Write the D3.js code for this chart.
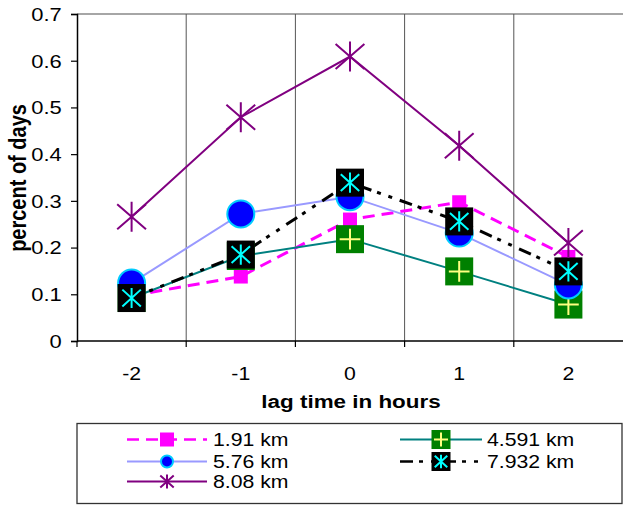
<!DOCTYPE html>
<head>
<meta charset="utf-8">
<style>
    body { margin: 0; background: #fff; }
    svg text { font-family: "Liberation Sans", Arial, sans-serif; fill: #000; }
</style>
<title>Lag time chart</title>
</head>
<body>
<script src="https://cdn.jsdelivr.net/npm/d3@7"></script>
<script>
    // categories and series
    const lagHours = ['-2', '-1', '0', '1', '2'];
    const km191 = [0.097, 0.138, 0.26, 0.297, 0.18];
    const km4591 = [0.092, 0.182, 0.218, 0.149, 0.078];
    const km576 = [0.124, 0.272, 0.309, 0.231, 0.12];
    const km7932 = [0.092, 0.185, 0.339, 0.256, 0.149];
    const km808 = [0.266, 0.479, 0.609, 0.418, 0.21];
    const yTicks = [0, 0.1, 0.2, 0.3, 0.4, 0.5, 0.6, 0.7];

    // the original looks a bit stretched sideways, so text gets stretched too
    const SX = 1.18;
    const SXY = 1.22;

    const plotLeft = 77, plotRight = 623, plotTop = 14, plotBottom = 341;

    const svg = d3.select('body').append('svg')
        .attr('width', 624)
        .attr('height', 506);

    const x = d3.scaleBand().domain(lagHours).range([plotLeft, plotRight]).padding(0);
    const y = d3.scaleLinear().domain([0, 0.7]).range([plotBottom, plotTop]);
    const cx = d => x(d) + x.bandwidth() / 2;

    // top border + vertical gridlines
    svg.append('line')
        .attr('x1', plotLeft).attr('x2', plotRight)
        .attr('y1', y(0.7)).attr('y2', y(0.7))
        .attr('stroke', '#888').attr('stroke-width', 1.5);

    svg.append('g').selectAll('line')
        .data(lagHours.slice(1))
        .join('line')
        .attr('x1', d => x(d)).attr('x2', d => x(d))
        .attr('y1', plotTop).attr('y2', plotBottom)
        .attr('stroke', '#555').attr('stroke-width', 1);

    // Y axis
    const yAxis = svg.append('g')
        .attr('transform', `translate(${plotLeft},0)`)
        .call(d3.axisLeft(y).tickValues(yTicks).tickSize(6).tickPadding(0)
            .tickFormat(d => d === 0 ? '0' : d.toFixed(1)));
    yAxis.select('.domain').attr('stroke', '#000').attr('stroke-width', 1.5);
    yAxis.selectAll('.tick line').attr('stroke', '#000').attr('stroke-width', 1.2);
    yAxis.selectAll('.tick text')
        .attr('x', -15.3 / SXY)
        .attr('dy', '0.35em')
        .attr('transform', `scale(${SXY},1)`)
        .style('font-size', '18px')
        .style('font-family', '"Liberation Sans", Arial, sans-serif');

    // X axis: labels at centres, ticks at the category borders
    const xAxis = svg.append('g')
        .attr('transform', `translate(0,${plotBottom})`)
        .call(d3.axisBottom(x).tickSize(0).tickPadding(0));
    xAxis.select('.domain').remove();
    xAxis.selectAll('.tick text')
        .attr('y', 39).attr('dy', 0)
        .attr('transform', `scale(${SX},1)`)
        .style('font-size', '18px')
        .style('font-family', '"Liberation Sans", Arial, sans-serif');

    svg.append('line')
        .attr('x1', plotLeft).attr('x2', plotRight)
        .attr('y1', plotBottom).attr('y2', plotBottom)
        .attr('stroke', '#000').attr('stroke-width', 1.5);
    svg.append('g').selectAll('line')
        .data(lagHours.map(d => x(d)))
        .join('line')
        .attr('x1', d => d).attr('x2', d => d)
        .attr('y1', plotBottom).attr('y2', plotBottom + 6)
        .attr('stroke', '#000').attr('stroke-width', 1.2);

    // axis titles
    svg.append('text')
        .attr('transform', `translate(351,408) scale(${SX},1)`)
        .attr('text-anchor', 'middle')
        .style('font-size', '19px')
        .style('font-weight', 'bold')
        .text('lag time in hours');

    svg.append('text')
        .attr('transform', `translate(26,178) rotate(-90) scale(1,${SX})`)
        .attr('text-anchor', 'middle')
        .style('font-size', '20px')
        .style('font-weight', 'bold')
        .text('percent of days');

    // markers
    function asterisk(g, w, h, v, color, sw) {
        g.append('path')
            .attr('d', `M0,${-v}V${v}M${-w},${-h}L${w},${h}M${-w},${h}L${w},${-h}`)
            .attr('stroke', color).attr('stroke-width', sw).attr('fill', 'none');
    }
    const markers = {
        square: (g, s) => {
            g.append('rect').attr('x', -s / 2).attr('y', -s / 2)
                .attr('width', s).attr('height', s).attr('fill', '#ff00ff');
        },
        plus: (g, s) => {
            g.append('rect').attr('x', -s / 2).attr('y', -s / 2)
                .attr('width', s).attr('height', s).attr('fill', '#008000');
            const a = s * 0.37;
            g.append('path').attr('d', `M${-a},0H${a}M0,${-a}V${a}`)
                .attr('stroke', '#ffff80').attr('stroke-width', 2);
        },
        circle: (g, s) => {
            g.append('circle').attr('r', s / 2 - 1)
                .attr('fill', '#0000ff').attr('stroke', '#00ccff').attr('stroke-width', 2);
        },
        blackStar: (g, s) => {
            g.append('rect').attr('x', -s / 2).attr('y', -s / 2)
                .attr('width', s).attr('height', s).attr('fill', '#000');
            asterisk(g, s * 0.33, s * 0.3, s * 0.36, '#00ffff', 2);
        },
        purpleStar: (g, s) => {
            asterisk(g, s * 0.48, s * 0.42, s * 0.5, '#800080', 2);
        },
    };

    const series = [
        { name: '1.91 km', values: km191, color: '#ff00ff', width: 3, dash: '12,7', marker: 'square', size: 14, legendSize: 14 },
        { name: '4.591 km', values: km4591, color: '#008080', width: 2, dash: null, marker: 'plus', size: 28, legendSize: 19 },
        { name: '5.76 km', values: km576, color: '#9999ff', width: 2, dash: null, marker: 'circle', size: 29, legendSize: 14 },
        { name: '7.932 km', values: km7932, color: '#000', width: 3, dash: '13,6,4,8,4,8', marker: 'blackStar', size: 28, legendSize: 19 },
        { name: '8.08 km', values: km808, color: '#800080', width: 2, dash: null, marker: 'purpleStar', size: 30, legendSize: 14 },
    ];

    const line = d3.line()
        .x((d, i) => cx(lagHours[i]))
        .y(d => y(d));

    series.forEach(s => {
        svg.append('path')
            .datum(s.values)
            .attr('fill', 'none')
            .attr('stroke', s.color)
            .attr('stroke-width', s.width)
            .attr('stroke-dasharray', s.dash)
            .attr('d', line);
    });

    series.forEach(s => {
        s.values.forEach((v, i) => {
            const g = svg.append('g')
                .attr('transform', `translate(${cx(lagHours[i])},${y(v)})`);
            markers[s.marker](g, s.size);
        });
    });

    // legend
    svg.append('rect')
        .attr('x', 77).attr('y', 423.5)
        .attr('width', 545).attr('height', 80)
        .attr('fill', '#fff').attr('stroke', '#333').attr('stroke-width', 1.3);

    const rowY = [439.5, 461.5, 481.5];
    const cols = [{ x1: 127, x2: 207, tx: 213 }, { x1: 400, x2: 482, tx: 487 }];

    series.forEach((s, i) => {
        const col = cols[i % 2];
        const ry = rowY[Math.floor(i / 2)];
        svg.append('line')
            .attr('x1', col.x1).attr('x2', col.x2)
            .attr('y1', ry).attr('y2', ry)
            .attr('stroke', s.color)
            .attr('stroke-width', s.width === 3 ? 2.5 : 2)
            .attr('stroke-dasharray', s.dash);
        const g = svg.append('g')
            .attr('transform', `translate(${(col.x1 + col.x2) / 2},${ry})`);
        markers[s.marker](g, s.legendSize);
        svg.append('text')
            .attr('transform', `translate(${col.tx},${ry + 6.5}) scale(${SX},1)`)
            .style('font-size', '18px')
            .text(s.name);
    });
</script>
</body>
